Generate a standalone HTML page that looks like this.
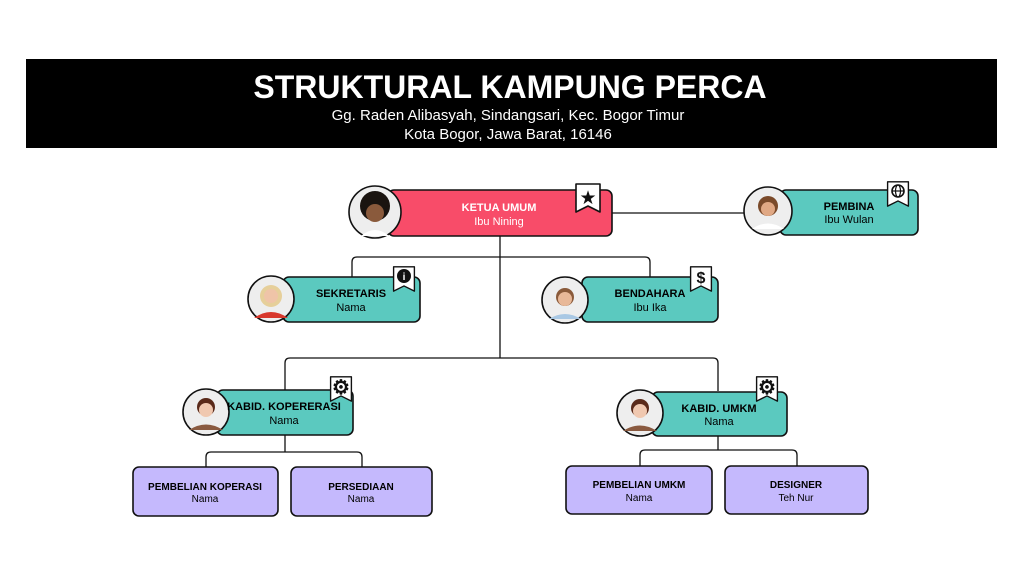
<!DOCTYPE html>
<html><head><meta charset="utf-8"><style>
html,body{margin:0;padding:0;background:#fff;width:1024px;height:577px;overflow:hidden}
svg{display:block}
text{font-family:"Liberation Sans",sans-serif}
</style></head><body>
<svg width="1024" height="577" viewBox="0 0 1024 577" xmlns="http://www.w3.org/2000/svg">
<defs>
<symbol id="bm" viewBox="0 0 26 30"><path d="M1 1H25V29L13 23L1 29Z" fill="#fff" stroke="#111" stroke-width="1.6" stroke-linejoin="round"/></symbol>
</defs>
<rect x="26" y="59" width="971" height="89" fill="#000"/>
<text x="510" y="98" text-anchor="middle" fill="#fff" font-size="32" font-weight="bold">STRUKTURAL KAMPUNG PERCA</text>
<text x="508" y="120" text-anchor="middle" fill="#fff" font-size="15">Gg. Raden Alibasyah, Sindangsari, Kec. Bogor Timur</text>
<text x="508" y="139" text-anchor="middle" fill="#fff" font-size="15">Kota Bogor, Jawa Barat, 16146</text>

<g fill="none" stroke="#111" stroke-width="1.3">
<path d="M612 213H746"/>
<path d="M500 236V358"/>
<path d="M352 277V262Q352 257 357 257H645Q650 257 650 262V277"/>
<path d="M285 390V363Q285 358 290 358H713Q718 358 718 363V391"/>
<path d="M285 435V452M206 467V457Q206 452 211 452H357Q362 452 362 457V467"/>
<path d="M718 436V450M640 466V455Q640 450 645 450H792Q797 450 797 455V466"/>
</g>

<g stroke="#111" stroke-width="1.6">
<rect x="388" y="190" width="224" height="46" rx="6" fill="#f84c69"/>
<rect x="780" y="190" width="138" height="45" rx="6" fill="#5bc9bf"/>
<rect x="283" y="277" width="137" height="45" rx="6" fill="#5bc9bf"/>
<rect x="582" y="277" width="136" height="45" rx="6" fill="#5bc9bf"/>
<rect x="217" y="390" width="136" height="45" rx="6" fill="#5bc9bf"/>
<rect x="652" y="392" width="135" height="44" rx="6" fill="#5bc9bf"/>
<rect x="133" y="467" width="145" height="49" rx="6" fill="#c5b9fd"/>
<rect x="291" y="467" width="141" height="49" rx="6" fill="#c5b9fd"/>
<rect x="566" y="466" width="146" height="48" rx="6" fill="#c5b9fd"/>
<rect x="725" y="466" width="143" height="48" rx="6" fill="#c5b9fd"/>
</g>

<g stroke="#111" stroke-width="1.6">
<circle cx="375" cy="212" r="26" fill="#eee"/>
<circle cx="768" cy="211" r="24" fill="#eee"/>
<circle cx="271" cy="299" r="23" fill="#eee"/>
<circle cx="565" cy="300" r="23" fill="#eee"/>
<circle cx="206" cy="412" r="23" fill="#eee"/>
<circle cx="640" cy="413" r="23" fill="#eee"/>
</g>
<g>
<circle cx="375" cy="206" r="15" fill="#1a1410"/><circle cx="375" cy="213" r="9" fill="#8a5a3c"/><path d="M361 236Q375 224 389 236Z" fill="#fff"/>
<circle cx="768" cy="206" r="10" fill="#7a4a2a"/><circle cx="768" cy="209" r="7" fill="#e0a884"/><path d="M752 229Q768 218 784 229Z" fill="#fff"/>
<circle cx="271" cy="296" r="11" fill="#e6cf9a"/><circle cx="271" cy="296" r="7" fill="#efc4a8"/><path d="M254 318Q271 306 288 318Z" fill="#d8382c"/>
<circle cx="565" cy="297" r="9" fill="#8a5a3a"/><circle cx="565" cy="299" r="7" fill="#e8b898"/><path d="M549 319Q565 309 581 319Z" fill="#a9c8e4"/>
<circle cx="206" cy="407" r="9" fill="#5a2a1a"/><circle cx="206" cy="410" r="7" fill="#f0c8b0"/><path d="M189 430Q206 419 223 430Z" fill="#8a5a40"/>
<circle cx="640" cy="408" r="9" fill="#5a2a1a"/><circle cx="640" cy="411" r="7" fill="#f0c8b0"/><path d="M623 431Q640 420 657 431Z" fill="#8a5a40"/>
</g>

<use href="#bm" x="575" y="183" width="26" height="30"/>
<text x="588" y="204" text-anchor="middle" font-size="19" fill="#111">★</text>
<use href="#bm" x="886" y="181" width="24" height="26"/>
<circle cx="898" cy="191" r="6" fill="none" stroke="#111" stroke-width="1.6"/><ellipse cx="898" cy="191" rx="2.5" ry="6" fill="none" stroke="#111" stroke-width="1.2"/><path d="M892 191H904" stroke="#111" stroke-width="1.2"/>
<use href="#bm" x="392" y="266" width="24" height="26"/>
<circle cx="404" cy="276" r="7" fill="#111"/><text x="404" y="280" text-anchor="middle" font-size="10" font-weight="bold" fill="#fff">i</text>
<use href="#bm" x="689" y="266" width="24" height="26"/>
<text x="701" y="283" text-anchor="middle" font-size="16" font-weight="bold" fill="#111">$</text>
<use href="#bm" x="329" y="376" width="24" height="26"/>
<text x="341" y="394" text-anchor="middle" font-size="20" font-weight="bold" fill="#111">⚙</text>
<use href="#bm" x="755" y="376" width="24" height="26"/>
<text x="767" y="394" text-anchor="middle" font-size="20" font-weight="bold" fill="#111">⚙</text>

<g text-anchor="middle" font-size="11">
<text x="499" y="211" fill="#fff" font-weight="bold">KETUA UMUM</text>
<text x="499" y="225" fill="#fff">Ibu Nining</text>
<text x="849" y="210" font-weight="bold">PEMBINA</text>
<text x="849" y="223">Ibu Wulan</text>
<text x="351" y="297" font-weight="bold">SEKRETARIS</text>
<text x="351" y="311">Nama</text>
<text x="650" y="297" font-weight="bold">BENDAHARA</text>
<text x="650" y="311">Ibu Ika</text>
<text x="284" y="410" font-weight="bold">KABID. KOPERERASI</text>
<text x="284" y="424">Nama</text>
<text x="719" y="412" font-weight="bold">KABID. UMKM</text>
<text x="719" y="425">Nama</text>
</g>
<g text-anchor="middle" font-size="10">
<text x="205" y="490" font-weight="bold">PEMBELIAN KOPERASI</text>
<text x="205" y="502">Nama</text>
<text x="361" y="490" font-weight="bold">PERSEDIAAN</text>
<text x="361" y="502">Nama</text>
<text x="639" y="488" font-weight="bold">PEMBELIAN UMKM</text>
<text x="639" y="501">Nama</text>
<text x="796" y="488" font-weight="bold">DESIGNER</text>
<text x="796" y="501">Teh Nur</text>
</g>
</svg>
</body></html>
